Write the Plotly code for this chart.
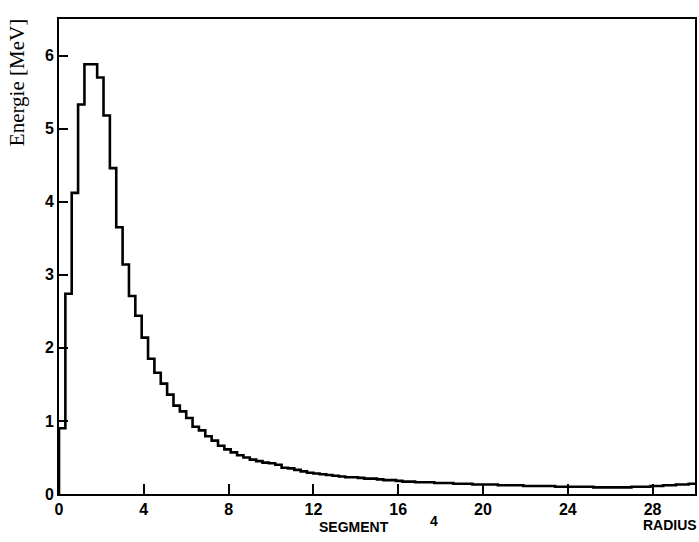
import numpy as np
import plotly.graph_objects as go

# Energy deposited per radial bin (MeV), 100 bins of width 0.3 from 0 to 30
BIN_WIDTH = 0.3
energy = [
    0.90, 2.74, 4.12, 5.33, 5.88, 5.88, 5.70, 5.18, 4.46, 3.65,
    3.14, 2.71, 2.44, 2.14, 1.85, 1.66, 1.51, 1.36, 1.21, 1.13,
    1.04, 0.92, 0.87, 0.79, 0.73, 0.66, 0.61, 0.57, 0.53, 0.50,
    0.47, 0.45, 0.43, 0.42, 0.40, 0.36, 0.35, 0.33, 0.31, 0.29,
    0.28, 0.27, 0.26, 0.25, 0.24, 0.23, 0.23, 0.22, 0.21, 0.21,
    0.20, 0.19, 0.19, 0.18, 0.17, 0.17, 0.16, 0.16, 0.16, 0.15,
    0.15, 0.15, 0.14, 0.14, 0.14, 0.13, 0.13, 0.13, 0.13, 0.12,
    0.12, 0.12, 0.12, 0.11, 0.11, 0.11, 0.11, 0.11, 0.10, 0.10,
    0.10, 0.10, 0.10, 0.10, 0.09, 0.09, 0.09, 0.09, 0.09, 0.09,
    0.10, 0.10, 0.10, 0.11, 0.11, 0.12, 0.12, 0.13, 0.13, 0.14,
]
x_ticks = [0, 4, 8, 12, 16, 20, 24, 28]
y_ticks = [0, 1, 2, 3, 4, 5, 6]

edges = np.arange(len(energy) + 1) * BIN_WIDTH
step_x = np.concatenate([[0.0], edges])
step_y = np.concatenate([[0.0], energy, [energy[-1]]])

fig = go.Figure(
    go.Scatter(
        x=step_x, y=step_y, mode="lines", line_shape="hv",
        line=dict(color="black", width=2.6), hoverinfo="skip",
    )
)

tick_font = dict(family="Liberation Sans Narrow, Liberation Sans, Arial", size=16,
                 color="black", weight="bold")
label_font = dict(family="Liberation Sans Narrow, Liberation Sans, Arial", size=14,
                  color="black", weight="bold")

fig.update_layout(
    width=699, height=542,
    margin=dict(l=59, r=2, t=19, b=48),
    paper_bgcolor="white", plot_bgcolor="white",
    showlegend=False,
    xaxis=dict(
        range=[0, 30], tickmode="array", tickvals=x_ticks, ticks="inside",
        ticklen=10, tickwidth=2, tickcolor="black", showgrid=False,
        zeroline=False, showline=True, linecolor="black", linewidth=2,
        mirror=True, tickfont=tick_font,
    ),
    yaxis=dict(
        range=[0, 6.5], tickmode="array", tickvals=y_ticks, ticks="inside",
        ticklen=9, tickwidth=2, tickcolor="black", showgrid=False,
        zeroline=False, showline=True, linecolor="black", linewidth=2,
        mirror=True, tickfont=tick_font,
    ),
    annotations=[
        dict(text="Energie [MeV]", xref="paper", yref="paper",
             x=-0.066, y=0.865, textangle=-90, showarrow=False,
             xanchor="center", yanchor="middle",
             font=dict(family="Liberation Serif, DejaVu Serif", size=21, color="black")),
        dict(text="SEGMENT", xref="x", yref="paper", x=13.9, y=0,
             yshift=-33, showarrow=False, xanchor="center", yanchor="middle",
             font=label_font),
        dict(text="4", xref="x", yref="paper", x=17.7, y=0,
             yshift=-27, showarrow=False, xanchor="center", yanchor="middle",
             font=label_font),
        dict(text="RADIUS", xref="x", yref="paper", x=28.8, y=0,
             yshift=-31, showarrow=False, xanchor="center", yanchor="middle",
             font=label_font),
    ],
)

fig.write_html("out.html")
